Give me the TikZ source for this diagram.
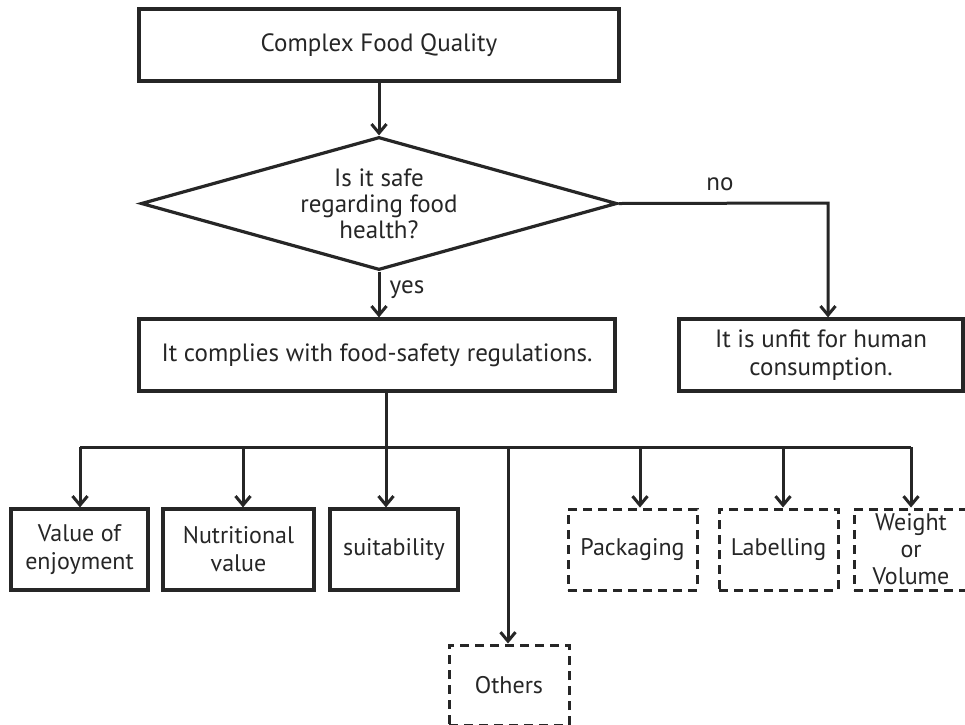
\documentclass[tikz,border=0pt]{standalone}
\usepackage{fontspec}
\setmainfont{PT Sans}
\usetikzlibrary{arrows.meta,shapes.geometric}
\begin{document}
\begin{tikzpicture}[x=1pt,y=-1pt,
  every node/.style={font=\fontsize{25}{27}\selectfont, align=center, inner sep=0pt, text=black!85},
  smallfont/.style={font=\fontsize{24}{28}\selectfont},
  solidbox/.style={draw=black!85, line width=3.2pt, rectangle},
  dashbox/.style={draw=black!85, line width=3pt, rectangle, dash pattern=on 9pt off 6pt},
  arr/.style={draw=black!85, line width=3pt, -{Straight Barb[length=9pt,width=15pt,line width=3pt]}},
  conn/.style={draw=black!85, line width=3pt}]
\useasboundingbox (0,0) rectangle (965,724);
\fill[white] (0,0) rectangle (965,724);

\node[solidbox, minimum width=480pt, minimum height=72pt] (top) at (379,45) {Complex Food Quality};
\node[draw=black!85, line width=3.2pt, shape=diamond, aspect=3.6, minimum width=476pt, minimum height=133pt,
      font=\fontsize{25}{26}\selectfont] (dia) at (379,203.5) {Is it safe\\regarding food\\health?};
\node[solidbox, minimum width=476pt, minimum height=72pt] (comp) at (377,355) {It complies with food-safety regulations.};
\node[solidbox, minimum width=284pt, minimum height=72pt, font=\fontsize{25}{28}\selectfont] (unfit) at (821,355) {It is unfit for human\\consumption.};

\node (no) at (720,184) {no};
\node (yes) at (407,290) {yes};

\draw[arr] (top.south) -- (dia.north);
\draw[arr] (dia.south) -- (dia.south |- comp.north);
\coordinate (nc) at (828,203);
\draw[arr] (dia.east) -- (nc) -- (nc |- unfit.north);

% bus
\coordinate (j) at (386,447);
\coordinate (c1) at (80,447);
\coordinate (c2) at (243,447);
\coordinate (c4) at (508,447);
\coordinate (c5) at (640,447);
\coordinate (c6) at (783,447);
\coordinate (c7) at (911,447);
\draw[conn] (comp.south -| j) -- (j);
\draw[conn] (c1) -- (c7);

\node[solidbox, smallfont, minimum width=137pt, minimum height=81pt] (v) at (79.5,549.5) {Value of\\enjoyment};
\node[solidbox, smallfont, minimum width=151pt, minimum height=81pt] (n) at (238.5,549.5) {Nutritional\\value};
\node[solidbox, smallfont, minimum width=128pt, minimum height=81pt] (s) at (394,549.5) {suitability};
\node[dashbox, smallfont, minimum width=129pt, minimum height=81pt] (p) at (632.5,549.5) {Packaging};
\node[dashbox, smallfont, minimum width=119pt, minimum height=81pt] (l) at (778.5,549.5) {Labelling};
\node[dashbox, minimum width=114pt, minimum height=81pt, font=\fontsize{24}{27}\selectfont] (w) at (911,549.5) {Weight\\or\\Volume};
\node[dashbox, smallfont, minimum width=120pt, minimum height=80pt] (o) at (509,685) {Others};

\draw[arr] (c1) -- (c1 |- v.north);
\draw[arr] (c2) -- (c2 |- n.north);
\draw[arr] (j) -- (j |- s.north);
\draw[arr] (c4) -- (c4 |- o.north);
\draw[arr] (c5) -- (c5 |- p.north);
\draw[arr] (c6) -- (c6 |- l.north);
\draw[arr] (c7) -- (c7 |- w.north);
\end{tikzpicture}
\end{document}
